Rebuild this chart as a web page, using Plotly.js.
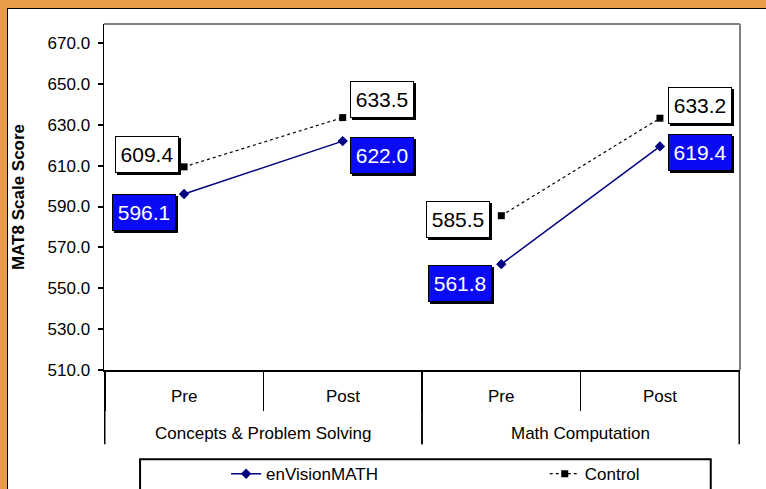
<!DOCTYPE html>
<html>
<head>
<meta charset="utf-8">
<script src="https://cdn.plot.ly/plotly-3.0.1.min.js"></script>
<style>
  html, body { margin: 0; padding: 0; background: #E99D47; width: 766px; height: 489px; overflow: hidden; }
  #frame { position: absolute; left: 7px; top: 8px; width: 759px; height: 481px; background: #fff; border-left: 1px solid #000; border-top: 1px solid #000; }
  #chart { width: 759px; height: 481px; }
</style>
</head>
<body>
<div id="frame"><div id="chart"></div></div>
<script>
const groups = ["Concepts & Problem Solving", "Concepts & Problem Solving", "Math Computation", "Math Computation"];
const phases = ["Pre", "Post", "Pre", "Post"];
const envision = [596.1, 622.0, 561.8, 619.4];
const control = [609.4, 633.5, 585.5, 633.2];
const yTicks = [510, 530, 550, 570, 590, 610, 630, 650, 670];

const FONT = "Arial, 'Liberation Sans', sans-serif";
const uniqueGroups = [...new Set(groups)];

const traces = [];
uniqueGroups.forEach((g, gi) => {
  const idx = groups.map((v, i) => v === g ? i : -1).filter(i => i >= 0);
  traces.push({
    type: 'scatter', mode: 'lines+markers', name: 'enVisionMATH',
    legend: 'legend', showlegend: gi === 0,
    x: [idx.map(i => groups[i]), idx.map(i => phases[i])],
    y: idx.map(i => envision[i]),
    line: { color: '#000080', width: 1.5 },
    marker: { symbol: 'diamond', size: 8, color: '#000080' }
  });
});
uniqueGroups.forEach((g, gi) => {
  const idx = groups.map((v, i) => v === g ? i : -1).filter(i => i >= 0);
  traces.push({
    type: 'scatter', mode: 'lines+markers', name: 'Control',
    legend: 'legend2', showlegend: gi === 0,
    x: [idx.map(i => groups[i]), idx.map(i => phases[i])],
    y: idx.map(i => control[i]),
    line: { color: '#000000', width: 1.2, dash: 'dot' },
    marker: { symbol: 'square', size: 7, color: '#000000' }
  });
});

// label offsets (px) for each point's boxed value
const envOffsets = [[-40, -18], [39, -14], [-41, -19], [40, -6]];
const ctlOffsets = [[-37, 12], [39, 18], [-43, -4], [40, 13]];

const annotations = [];
function addBox(xi, y, off, bg, fg) {
  const common = {
    x: xi, y: y, xref: 'x', yref: 'y', showarrow: false,
    width: 60, height: 33, borderpad: 1, borderwidth: 1
  };
  // drop shadow (no text)
  annotations.push(Object.assign({}, common, {
    text: ' ', xshift: off[0] + 2, yshift: off[1] - 2, bgcolor: '#000', bordercolor: '#000',
    font: { family: FONT, size: 21, color: '#000' }
  }));
  annotations.push(Object.assign({}, common, {
    text: y.toFixed(1), xshift: off[0], yshift: off[1], bgcolor: bg, bordercolor: '#000',
    font: { family: FONT, size: 21, color: fg }
  }));
}
envision.forEach((v, i) => addBox(i, v, envOffsets[i], '#0A0AF5', '#ffffff'));
control.forEach((v, i) => addBox(i, v, ctlOffsets[i], '#ffffff', '#000000'));

// category axis labels (two levels)
phases.forEach((p, i) => annotations.push({
  x: i, y: -0.0754, xref: 'x', yref: 'paper', showarrow: false, text: p,
  font: { family: FONT, size: 17, color: '#000' }, yanchor: 'middle'
}));
const shapes = [
  { type: 'line', xref: 'paper', yref: 'paper', x0: 0, x1: 1, y0: 1, y1: 1, line: { color: '#808080', width: 2 } },
  { type: 'line', xref: 'paper', yref: 'paper', x0: 1, x1: 1, y0: 0, y1: 1, line: { color: '#808080', width: 2 } },
  { type: 'rect', xref: 'paper', yref: 'paper', x0: 0.0567, x1: 0.954, y0: -0.258, y1: -0.40, line: { color: '#000', width: 2 }, fillcolor: 'rgba(0,0,0,0)' }
];
uniqueGroups.forEach((g, gi) => {
  const idx = groups.map((v, i) => v === g ? i : -1).filter(i => i >= 0);
  const lo = idx[0], hi = idx[idx.length - 1];
  annotations.push({
    x: (lo + hi) / 2, y: -0.183, xref: 'x', yref: 'paper', showarrow: false, text: g,
    font: { family: FONT, size: 17, color: '#000' }, yanchor: 'middle'
  });
  [lo - 0.5, hi + 0.5].forEach(b => shapes.push({
    type: 'line', xref: 'x', yref: 'paper', x0: b, x1: b, y0: 0, y1: -0.2145,
    line: { color: '#000', width: 1.5 }
  }));
});

const layout = {
  width: 759, height: 481,
  margin: { l: 96, r: 27, t: 15, b: 120, autoexpand: false },
  paper_bgcolor: '#ffffff', plot_bgcolor: '#ffffff',
  font: { family: FONT, size: 17, color: '#000' },
  showlegend: true,
  legend: {
    orientation: 'h', x: 0.192, xanchor: 'left', y: -0.301, yanchor: 'middle',
    bgcolor: 'rgba(0,0,0,0)', borderwidth: 0,
    font: { family: FONT, size: 17, color: '#000' }
  },
  legend2: {
    orientation: 'h', x: 0.693, xanchor: 'left', y: -0.301, yanchor: 'middle',
    bgcolor: 'rgba(0,0,0,0)', borderwidth: 0,
    font: { family: FONT, size: 17, color: '#000' }
  },
  xaxis: {
    type: 'multicategory', automargin: false, showticklabels: false,
    showline: true, linecolor: '#000', linewidth: 1.5,
    ticks: 'outside', tickson: 'boundaries', ticklen: 39, tickwidth: 1.5, tickcolor: '#000',
    showdividers: false,
    showgrid: false, zeroline: false
  },
  yaxis: {
    range: [510, 679.3], tickvals: yTicks, tickformat: '.1f', automargin: false,
    showline: true, linecolor: '#000', linewidth: 1.5,
    ticks: 'outside', ticklen: 5, tickwidth: 2, tickcolor: '#000', ticklabelstandoff: 4,
    showgrid: false, zeroline: false,
    tickfont: { family: FONT, size: 17, color: '#000' },
    title: { text: 'MAT8 Scale Score', font: { family: FONT, size: 17, color: '#000', weight: 'bold' }, standoff: 18 }
  },
  shapes: shapes,
  annotations: annotations
};

Plotly.newPlot('chart', traces, layout, { displayModeBar: false, staticPlot: true });
</script>
</body>
</html>
